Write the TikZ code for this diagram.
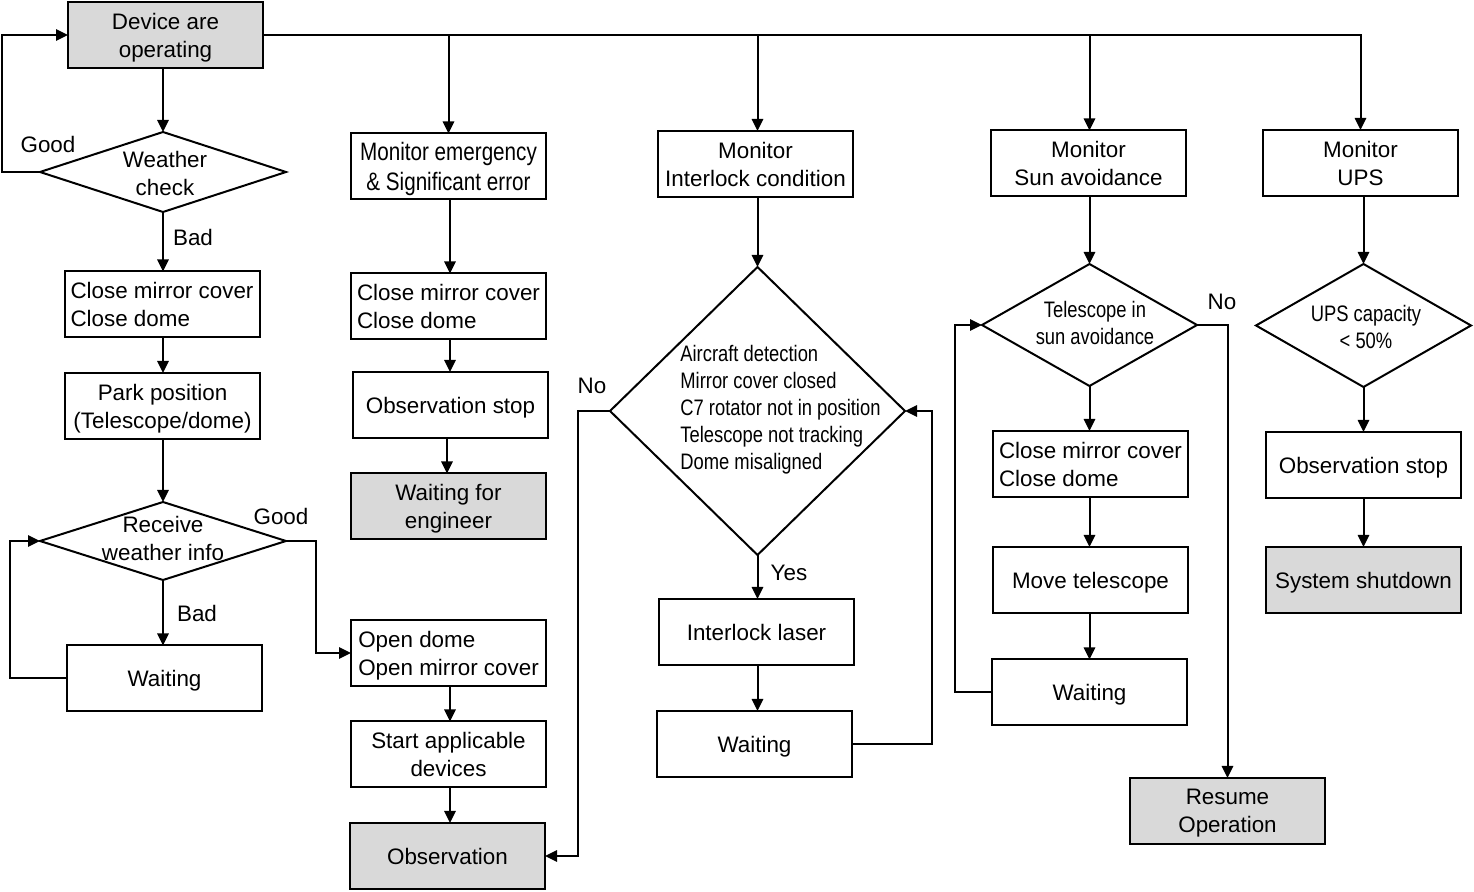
\documentclass[tikz,border=0pt]{standalone}
\usepackage{fontspec}
\setmainfont{Liberation Sans}
\newfontfamily\narrowf[FakeStretch=0.82]{Liberation Sans}
\usetikzlibrary{shapes.geometric,arrows.meta}
\definecolor{boxgray}{RGB}{217,217,217}
\begin{document}
\begin{tikzpicture}[x=0.5pt,y=-0.5pt,
 font=\fontsize{11.2}{14}\selectfont,
 box/.style={draw,line width=1pt,minimum width=97.5pt,minimum height=33pt,inner sep=0pt,outer sep=0pt,align=center,text depth=0pt},
 gbox/.style={box,fill=boxgray},
 lbox/.style={box,align=left},
 dia/.style={draw,diamond,line width=1pt,inner sep=0pt,outer sep=0pt},
 ntxt/.style={font=\narrowf\fontsize{11.2}{13.5}\selectfont,align=center,inner sep=0pt},
 lab/.style={inner sep=0pt},
 arr/.style={line width=1pt,-{Triangle[length=6pt,width=5.6pt]}},
 ln/.style={line width=1pt}]
\useasboundingbox (0,0) rectangle (1474,892);

% column 1
\node[gbox] (dev) at (165.5,35) {Device are\\operating};
\node[dia,minimum width=123pt,minimum height=40pt] (wc) at (163,172) {};
\node[ntxt,font=\fontsize{11.2}{14}\selectfont] (wct) at (165,174) {Weather\\check};
\node[lbox] (cm1) at (162,304.5) {Close mirror cover\\Close dome};
\node[box] (park) at (162.5,406) {Park position\\(Telescope/dome)};
\node[dia,minimum width=123pt,minimum height=39pt] (rw) at (163,541) {};
\node[ntxt,font=\fontsize{11.2}{14}\selectfont] (rwt) at (163,538) {Receive\\weather info};
\node[box] (w1) at (164.5,678.5) {Waiting};

% column 2
\node[box,font=\narrowf\fontsize{12.6}{15}\selectfont] (emg) at (448.5,166.5) {Monitor emergency\\\& Significant error};
\node[lbox] (cm2) at (448.5,306.5) {Close mirror cover\\Close dome};
\node[box] (os2) at (450.5,405) {Observation stop};
\node[gbox] (wfe) at (448.5,506.5) {Waiting for\\engineer};
\node[lbox] (od) at (448.5,653) {Open dome\\Open mirror cover};
\node[box] (sad) at (448.5,754.5) {Start applicable\\devices};
\node[gbox] (obs) at (447.5,856) {Observation};

% column 3
\node[box] (mic) at (755.5,164) {Monitor\\Interlock condition};
\node[dia,minimum width=147.5pt,minimum height=144pt] (bd) at (757.5,411) {};
\node[ntxt,align=left,anchor=west] (bdt) at (680,410) {Aircraft detection\\Mirror cover closed\\C7 rotator not in position\\Telescope not tracking\\Dome misaligned};
\node[box] (il) at (756.5,632) {Interlock laser};
\node[box] (w3) at (754.5,744) {Waiting};

% column 4
\node[box] (msa) at (1088.5,163.5) {Monitor\\Sun avoidance};
\node[dia,minimum width=107.5pt,minimum height=61pt] (tsa) at (1089.5,325) {};
\node[ntxt] (tsat) at (1095,323) {Telescope in\\sun avoidance};
\node[lbox] (cm4) at (1090.5,464) {Close mirror cover\\Close dome};
\node[box] (mt) at (1090.5,580) {Move telescope};
\node[box] (w4) at (1089.5,692.5) {Waiting};
\node[gbox] (ro) at (1227.5,811) {Resume\\Operation};

% column 5
\node[box] (ups) at (1360.5,163) {Monitor\\UPS};
\node[dia,minimum width=107.5pt,minimum height=61.5pt] (ud) at (1363.5,325.5) {};
\node[ntxt] (udt) at (1366,327) {UPS capacity\\< 50\%};
\node[box] (os5) at (1363.5,465) {Observation stop};
\node[gbox] (ss) at (1363.5,580) {System shutdown};

% branch labels
\node[lab] (l1) at (48,145) {Good};
\node[lab] (l2) at (193,237) {Bad};
\node[lab] (l3) at (281,516) {Good};
\node[lab] (l4) at (197,613) {Bad};
\node[lab] (l5) at (592,386) {No};
\node[lab] (l6) at (789,573) {Yes};
\node[lab] (l7) at (1222,302) {No};

% top bus
\draw[arr] (dev.east) -| (ups.north);
\draw[arr] (dev.east -| emg.north) -- (emg.north);
\draw[arr] (dev.east -| bd.north) -- (mic.north -| bd.north);
\draw[arr] (dev.east -| tsa.north) -- (msa.north -| tsa.north);

% column 1 connectors
\draw[arr] (dev.south -| wc.north) -- (wc.north);
\draw[arr] (wc.west) -- ++(-38,0) |- (dev.west);
\draw[arr] (wc.south) -- (wc.south |- cm1.north);
\draw[arr] (cm1.south -| wc.south) -- (park.north -| wc.south);
\draw[arr] (park.south -| rw.north) -- (rw.north);
\draw[arr] (rw.south) -- (rw.south |- w1.north);
\draw[arr] (w1.west) -- ++(-57,0) |- (rw.west);
\draw[arr] (rw.east) -- ++(30,0) |- (od.west);

% column 2 connectors
\draw[arr] (emg.south -| 450,0) -- (cm2.north -| 450,0);
\draw[arr] (cm2.south -| 450,0) -- (os2.north -| 450,0);
\draw[arr] (os2.south -| 447,0) -- (wfe.north -| 447,0);
\draw[arr] (od.south -| 450,0) -- (sad.north -| 450,0);
\draw[arr] (sad.south -| 450,0) -- (obs.north -| 450,0);
\draw[arr] (bd.west) -- ++(-32,0) |- (obs.east);

% column 3 connectors
\draw[arr] (mic.south -| bd.north) -- (bd.north);
\draw[arr] (bd.south) -- (bd.south |- il.north);
\draw[arr] (il.south -| bd.south) -- (w3.north -| bd.south);
\draw[arr] (w3.east) -- ++(80,0) |- (bd.east);

% column 4 connectors
\draw[arr] (msa.south -| tsa.north) -- (tsa.north);
\draw[arr] (tsa.south) -- (tsa.south |- cm4.north);
\draw[arr] (cm4.south -| tsa.south) -- (mt.north -| tsa.south);
\draw[arr] (mt.south -| tsa.south) -- (w4.north -| tsa.south);
\draw[arr] (w4.west) -- ++(-37,0) |- (tsa.west);
\draw[arr] (tsa.east) -| (ro.north);

% column 5 connectors
\draw[arr] (ups.south -| ud.north) -- (ud.north);
\draw[arr] (ud.south) -- (ud.south |- os5.north);
\draw[arr] (os5.south -| ud.south) -- (ss.north -| ud.south);
\end{tikzpicture}
\end{document}
